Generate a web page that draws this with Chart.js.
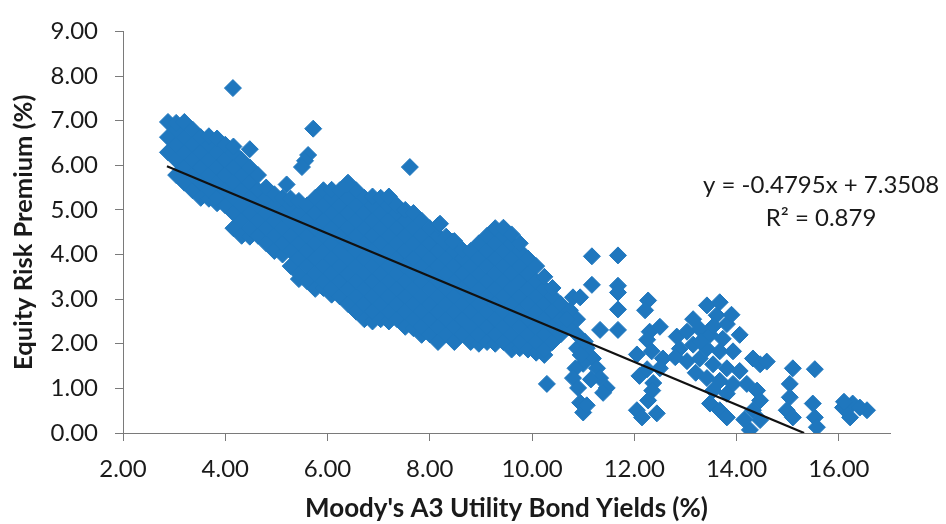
<!DOCTYPE html>
<html>
<head>
<meta charset="utf-8">
<script src="https://cdn.jsdelivr.net/npm/chart.js@4/dist/chart.umd.min.js"></script>
<style>
  html, body { margin: 0; padding: 0; background: #ffffff; }
  #wrap { width: 946px; height: 524px; position: relative; }
</style>
</head>
<body>
<div id="wrap"><canvas id="c" width="946" height="524"></canvas></div>
<script>
// ---- Data ----
const xAxisTitle = "Moody's A3 Utility Bond Yields (%)";
const yAxisTitle = "Equity Risk Premium (%)";
const equationLabel = "y = -0.4795x + 7.3508";
const rSquaredLabel = "R\u00B2 = 0.879";

// Dense part of the cloud: yields (x) and the premiums observed at each yield column
const denseYields = [2.88,3.04,3.20,3.36,3.52,3.68,3.84,4.00,4.16,4.32,4.48,4.64,4.80,4.96,5.12,5.28,5.44,5.60,5.76,5.92,6.08,6.24,6.40,6.56,6.72,6.88,7.04,7.20,7.36,7.52,7.68,7.84,8.00,8.16,8.32,8.48,8.64,8.80,8.96,9.12,9.28,9.44,9.60,9.76,9.92,10.08,10.24,10.40,10.56,10.72,10.88];
const densePremiums = [
  [6.29,6.63,6.97],
  [5.78,6.12,6.46,6.80,6.95],
  [5.61,5.95,6.29,6.63,6.97],
  [5.44,5.78,6.12,6.46,6.80],
  [5.27,5.61,5.95,6.29,6.63],
  [5.25,5.44,5.78,6.12,6.46,6.65],
  [5.15,5.27,5.61,5.95,6.29,6.60],
  [5.10,5.44,5.78,6.12,6.46],
  [4.59,4.93,5.27,5.61,5.95,6.29,6.42],
  [4.42,4.76,5.10,5.44,5.78,6.12],
  [4.40,4.59,4.93,5.27,5.61,5.95,6.36],
  [4.42,4.76,5.10,5.44,5.78],
  [4.25,4.59,4.93,5.27,5.50],
  [4.08,4.42,4.76,5.10,5.35],
  [4.00,4.25,4.59,4.93,5.27],
  [3.74,4.08,4.42,4.76,5.10,5.25],
  [3.45,3.57,3.91,4.25,4.59,4.93,5.20],
  [3.40,3.74,4.08,4.42,4.76,5.10],
  [3.23,3.57,3.91,4.25,4.59,4.93,5.27],
  [3.25,3.40,3.74,4.08,4.42,4.76,5.10,5.44],
  [3.10,3.23,3.57,3.91,4.25,4.59,4.93,5.27,5.45],
  [3.06,3.40,3.74,4.08,4.42,4.76,5.10,5.44],
  [2.89,3.23,3.57,3.91,4.25,4.59,4.93,5.27,5.61],
  [2.72,3.06,3.40,3.74,4.08,4.42,4.76,5.10,5.44],
  [2.55,2.89,3.23,3.57,3.91,4.25,4.59,4.93,5.27],
  [2.50,2.72,3.06,3.40,3.74,4.08,4.42,4.76,5.10,5.30],
  [2.55,2.89,3.23,3.57,3.91,4.25,4.59,4.93,5.27],
  [2.50,2.72,3.06,3.40,3.74,4.08,4.42,4.76,5.10,5.30],
  [2.55,2.89,3.23,3.57,3.91,4.25,4.59,4.93,5.10],
  [2.38,2.72,3.06,3.40,3.74,4.08,4.42,4.76,5.00],
  [2.35,2.55,2.89,3.23,3.57,3.91,4.25,4.59,4.93],
  [2.20,2.38,2.72,3.06,3.40,3.74,4.08,4.42,4.76],
  [2.21,2.55,2.89,3.23,3.57,3.91,4.25,4.59],
  [2.04,2.38,2.72,3.06,3.40,3.74,4.08,4.42,4.65],
  [2.21,2.55,2.89,3.23,3.57,3.91,4.25,4.40],
  [2.04,2.38,2.72,3.06,3.40,3.74,4.08,4.30],
  [2.21,2.55,2.89,3.23,3.57,3.91,4.10],
  [2.04,2.38,2.72,3.06,3.40,3.74,4.08],
  [2.00,2.21,2.55,2.89,3.23,3.57,3.91,4.25],
  [2.04,2.38,2.72,3.06,3.40,3.74,4.08,4.42],
  [2.00,2.21,2.55,2.89,3.23,3.57,3.91,4.25,4.59],
  [2.04,2.38,2.72,3.06,3.40,3.74,4.08,4.42,4.60],
  [1.87,2.21,2.55,2.89,3.23,3.57,3.91,4.25,4.45],
  [1.90,2.04,2.38,2.72,3.06,3.40,3.74,4.08,4.25],
  [1.87,2.21,2.55,2.89,3.23,3.57,3.91],
  [1.80,2.04,2.38,2.72,3.06,3.40,3.74],
  [1.75,1.87,2.21,2.55,2.89,3.23,3.50],
  [2.04,2.38,2.72,3.06,3.25],
  [2.21,2.55,2.89],
  [2.38,2.72],
  [1.90,2.21,2.55]
];

// Scattered observations, [yield, premium]
const scatteredObs = [
  [4.15,7.73],[5.72,6.82],[5.62,6.23],[5.56,6.10],[5.50,5.96],[5.20,5.57],[6.38,5.57],[7.61,5.96],[8.20,4.69],[8.45,4.29],
  [10.29,1.10],
  [10.80,3.04],[10.94,3.04],[11.17,3.96],[11.68,3.98],[11.17,3.32],[11.68,3.30],[11.68,3.15],[11.68,2.77],[12.27,2.97],[12.21,2.75],[10.74,2.75],[10.68,2.55],
  [11.33,2.31],[11.68,2.31],[12.30,2.27],[12.50,2.38],[12.25,2.09],[12.83,2.16],
  [11.07,1.90],[11.19,1.67],[11.27,1.45],[11.33,1.23],[11.46,1.01],[11.00,1.55],[10.85,1.45],[11.15,1.20],[11.39,0.90],[10.80,1.23],[10.90,1.01],[10.94,0.68],[11.00,0.46],[11.07,0.62],[10.95,1.75],[11.03,2.05],
  [12.05,1.76],[12.34,1.83],[12.56,1.67],[12.10,1.28],[12.37,1.12],[12.25,1.43],[12.50,1.45],
  [12.05,0.51],[12.27,0.73],[12.44,0.44],[12.15,0.35],[12.35,0.95],
  [13.15,2.55],[13.42,2.86],[13.67,2.93],[13.61,2.64],[13.81,2.44],[14.06,2.20],[13.03,2.27],[13.28,2.33],[13.48,2.20],[13.73,2.11],[13.15,1.98],[13.42,1.89],[13.67,1.83],[13.93,1.83],[13.03,1.61],[13.28,1.67],[13.54,1.54],[13.81,1.45],[14.06,1.39],[13.42,1.23],[13.67,1.17],[13.93,1.10],[13.54,0.95],[13.81,0.88],[13.48,0.66],[13.67,0.51],[13.81,0.35],[12.89,1.89],[12.80,1.70],[13.30,2.05],[13.55,2.40],[13.90,2.65],[13.20,1.35],
  [14.32,1.67],[14.46,1.54],[14.59,1.60],[14.20,1.10],[14.40,0.95],[14.46,0.73],[14.32,0.51],[14.46,0.29],[14.26,0.07],[14.15,0.30],
  [15.10,1.45],[15.53,1.43],[15.04,1.10],[15.04,0.80],[14.98,0.51],[15.10,0.35],[15.49,0.66],[15.53,0.35],[15.57,0.13],
  [16.08,0.57],[16.27,0.66],[16.22,0.35],[16.55,0.51],[16.41,0.57],[16.10,0.70]
];

// Linear trend line endpoints as drawn in the picture
const trendYields = [2.86, 15.32];
const trendPremiums = [5.98, 0.00];

// ---- Build data table ----
const scatterData = [];
denseYields.forEach((x, i) => densePremiums[i].forEach(y => scatterData.push({ x: x, y: y })));
scatteredObs.forEach(p => scatterData.push({ x: p[0], y: p[1] }));
const trendData = trendYields.map((x, i) => ({ x: x, y: trendPremiums[i] }));

const FONT = 'Lato, "Open Sans", sans-serif';
const AXIS_COLOR = '#7a7a7a';
const TEXT_COLOR = '#1a1a1a';

const equationPlugin = {
  id: 'equationText',
  afterDraw(chart) {
    const ctx = chart.ctx;
    ctx.save();
    ctx.font = '24px ' + FONT;
    ctx.fillStyle = TEXT_COLOR;
    ctx.textAlign = 'center';
    ctx.textBaseline = 'middle';
    ctx.fillText(equationLabel, 821, 185);
    ctx.fillText(rSquaredLabel, 821, 218);
    ctx.restore();
  }
};

new Chart(document.getElementById('c'), {
  type: 'scatter',
  data: {
    datasets: [
      {
        type: 'line',
        label: 'Trend',
        data: trendData,
        borderColor: '#111111',
        borderWidth: 2.2,
        pointRadius: 0,
        fill: false,
        order: 0
      },
      {
        label: 'Observations',
        data: scatterData,
        pointStyle: 'rectRot',
        pointRadius: 8.5,
        backgroundColor: '#1f77be',
        borderColor: '#1f77be',
        borderWidth: 1,
        order: 1
      }
    ]
  },
  options: {
    responsive: false,
    animation: false,
    layout: { padding: { left: 0, top: 24, right: 56, bottom: 0 } },
    plugins: {
      legend: { display: false },
      tooltip: { enabled: false }
    },
    scales: {
      x: {
        type: 'linear',
        min: 2,
        max: 17,
        afterFit(scale) { scale.height = 91; },
        ticks: {
          stepSize: 2,
          includeBounds: false,
          padding: 14,
          color: TEXT_COLOR,
          font: { family: FONT, size: 24 },
          maxRotation: 0,
          callback: v => Number(v).toFixed(2)
        },
        grid: { drawOnChartArea: false, drawTicks: true, tickLength: 8, color: AXIS_COLOR },
        border: { display: true, color: AXIS_COLOR, width: 1 },
        title: {
          display: true,
          text: xAxisTitle,
          color: TEXT_COLOR,
          font: { family: FONT, size: 26, weight: 'bold' },
          padding: { top: 0, bottom: 0 }
        }
      },
      y: {
        type: 'linear',
        min: 0,
        max: 9,
        afterFit(scale) { scale.width = 123; },
        ticks: {
          stepSize: 1,
          padding: 17,
          color: TEXT_COLOR,
          font: { family: FONT, size: 24 },
          callback: v => Number(v).toFixed(2)
        },
        grid: { drawOnChartArea: false, drawTicks: true, tickLength: 8, color: AXIS_COLOR },
        border: { display: true, color: AXIS_COLOR, width: 1 },
        title: {
          display: true,
          text: yAxisTitle,
          color: TEXT_COLOR,
          font: { family: FONT, size: 25.5, weight: 'bold' },
          padding: { top: 8, bottom: 0 }
        }
      }
    }
  },
  plugins: [equationPlugin]
});
</script>
</body>
</html>
